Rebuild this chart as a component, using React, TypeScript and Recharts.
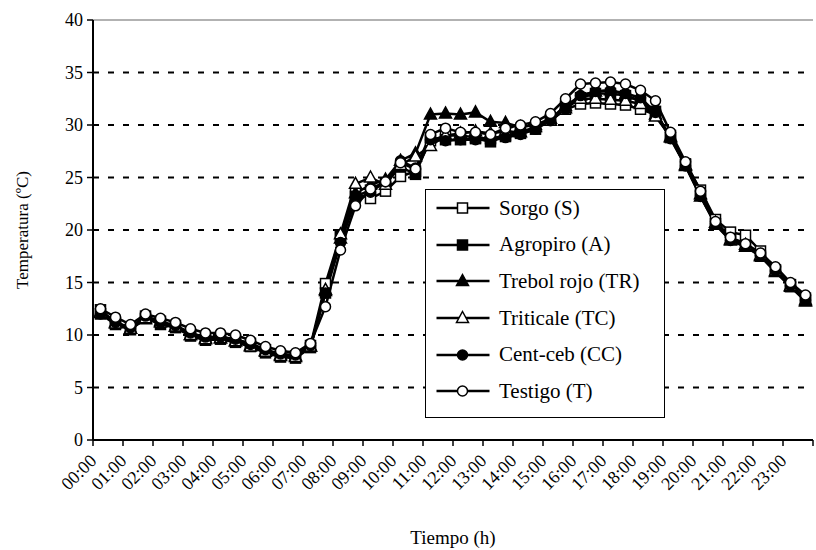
import React from "react";
import { LineChart, Line, XAxis, YAxis, ReferenceLine, Legend } from "recharts";

const serif = "Liberation Serif, Times New Roman, serif";

// half-hour readings
const times = [
  "00:00", "00:30", "01:00", "01:30", "02:00", "02:30", "03:00", "03:30",
  "04:00", "04:30", "05:00", "05:30", "06:00", "06:30", "07:00", "07:30",
  "08:00", "08:30", "09:00", "09:30", "10:00", "10:30", "11:00", "11:30",
  "12:00", "12:30", "13:00", "13:30", "14:00", "14:30", "15:00", "15:30",
  "16:00", "16:30", "17:00", "17:30", "18:00", "18:30", "19:00", "19:30",
  "20:00", "20:30", "21:00", "21:30", "22:00", "22:30", "23:00", "23:30",
];

const sorgo = [
  12.4, 11.2, 10.7, 11.8, 11.3, 10.9, 10.1, 9.8, 9.8, 9.6, 9.2, 8.6, 8.1, 8.0, 9.0, 14.9,
  19.5, 23.5, 23.0, 23.7, 25.1, 25.6, 28.5, 29.0, 29.0, 28.8, 28.7, 29.0, 29.3, 29.8, 30.5, 31.5,
  32.0, 32.1, 32.0, 31.9, 31.5, 31.0, 29.0, 26.3, 23.8, 21.0, 19.8, 19.5, 18.0, 16.2, 14.8, 13.5,
];
const agropiro = [
  12.0, 11.0, 10.5, 11.6, 11.0, 10.7, 9.9, 9.5, 9.6, 9.3, 8.9, 8.3, 7.9, 7.8, 8.8, 14.0,
  19.5, 23.2, 23.8, 24.5, 26.0, 25.3, 28.8, 28.6, 28.6, 28.7, 28.4, 28.9, 29.2, 29.6, 30.5, 31.8,
  32.6, 33.0, 33.0, 32.8, 32.3, 31.3, 28.8, 26.2, 23.3, 20.6, 19.2, 18.5, 17.5, 16.1, 14.6, 13.3,
];
const trebolRojo = [
  12.2, 11.2, 10.6, 11.5, 11.3, 10.8, 10.0, 9.7, 9.7, 9.4, 9.0, 8.5, 8.1, 8.0, 8.9, 14.2,
  19.2, 23.5, 24.3, 24.8, 26.6, 27.3, 31.0, 31.1, 31.0, 31.2, 30.3, 30.2, 29.8, 30.0, 30.6, 31.8,
  32.8, 33.2, 33.3, 32.9, 32.2, 31.0, 28.8, 26.1, 23.2, 20.5, 19.0, 18.4, 17.5, 16.0, 14.6, 13.2,
];
const triticale = [
  12.1, 11.1, 10.6, 11.6, 11.2, 10.8, 10.0, 9.6, 9.7, 9.4, 8.9, 8.4, 8.0, 7.9, 8.9, 14.3,
  19.6, 24.4, 25.0, 24.3, 26.2, 27.0, 28.0, 29.0, 29.2, 29.4, 29.2, 29.4, 29.3, 29.8, 30.4, 31.6,
  32.5, 32.5, 32.4, 32.3, 32.0, 30.8, 28.9, 26.2, 23.4, 20.7, 19.1, 18.6, 17.6, 16.1, 14.7, 13.3,
];
const centCeb = [
  12.0, 11.2, 10.7, 11.8, 11.2, 10.9, 10.2, 9.8, 9.8, 9.6, 9.1, 8.6, 8.2, 8.1, 9.0, 14.0,
  18.8, 22.8, 23.6, 24.6, 26.6, 25.9, 28.6, 28.5, 28.6, 28.6, 28.6, 28.8, 29.1, 29.6, 30.4, 31.5,
  32.8, 33.2, 33.3, 33.0, 32.6, 31.2, 28.7, 26.1, 23.2, 20.6, 19.0, 18.5, 17.6, 16.1, 14.7, 13.3,
];
const testigo = [
  12.5, 11.7, 11.0, 12.0, 11.6, 11.2, 10.6, 10.2, 10.2, 10.0, 9.5, 8.9, 8.5, 8.3, 9.2, 12.7,
  18.1, 22.3, 23.9, 24.6, 26.4, 25.8, 29.1, 29.7, 29.3, 29.3, 29.1, 29.7, 30.0, 30.3, 31.1, 32.5,
  33.9, 34.0, 34.1, 33.9, 33.3, 32.3, 29.3, 26.5, 23.7, 20.8, 19.3, 18.7, 17.8, 16.5, 15.0, 13.8,
];

const yTicks = [0, 5, 10, 15, 20, 25, 30, 35, 40];
const dashedLevels = [5, 10, 15, 20, 25, 30, 35];

type Kind = "square" | "triangle" | "circle";

const seriesList: { key: string; name: string; kind: Kind; filled: boolean }[] = [
  { key: "S", name: "Sorgo (S)", kind: "square", filled: false },
  { key: "A", name: "Agropiro (A)", kind: "square", filled: true },
  { key: "TR", name: "Trebol rojo (TR)", kind: "triangle", filled: true },
  { key: "TC", name: "Triticale (TC)", kind: "triangle", filled: false },
  { key: "CC", name: "Cent-ceb (CC)", kind: "circle", filled: true },
  { key: "T", name: "Testigo (T)", kind: "circle", filled: false },
];

const data = times.map((time, i) => ({
  time,
  S: sorgo[i],
  A: agropiro[i],
  TR: trebolRojo[i],
  TC: triticale[i],
  CC: centCeb[i],
  T: testigo[i],
}));

const Marker = ({ cx, cy, kind, filled }: { cx: number; cy: number; kind: Kind; filled: boolean }) => {
  const fill = filled ? "#000" : "#fff";
  if (kind === "square")
    return <rect x={cx - 5} y={cy - 5} width={10} height={10} fill={fill} stroke="#000" strokeWidth={1.5} />;
  if (kind === "circle")
    return <circle cx={cx} cy={cy} r={5} fill={fill} stroke="#000" strokeWidth={1.5} />;
  return (
    <polygon
      points={`${cx},${cy - 6.5} ${cx + 6},${cy + 4.5} ${cx - 6},${cy + 4.5}`}
      fill={fill}
      stroke="#000"
      strokeWidth={1.5}
    />
  );
};

// excel style: marks between categories, label every hour
const TimeTick = (props: any) => {
  const { x, y, payload } = props;
  const half = 7.5;
  const lx = x - 3;
  const ly = y + 22;
  return (
    <g>
      <line x1={x - half} x2={x - half} y1={y} y2={y + 6} stroke="#000" strokeWidth={1.5} />
      {payload.value === "23:00" && (
        <line x1={x + 3 * half} x2={x + 3 * half} y1={y} y2={y + 6} stroke="#000" strokeWidth={1.5} />
      )}
      <text
        x={lx}
        y={ly}
        transform={`rotate(-45, ${lx}, ${ly})`}
        textAnchor="end"
        style={{ fontFamily: serif, fontSize: 18, fill: "#000" }}
      >
        {payload.value}
      </text>
    </g>
  );
};

const TempTick = (props: any) => {
  const { x, y, payload } = props;
  return (
    <text x={x} y={y} dy={6} textAnchor="end" style={{ fontFamily: serif, fontSize: 18, fill: "#000" }}>
      {payload.value}
    </text>
  );
};

const LegendBox = () => (
  <div
    style={{
      width: 240,
      height: 229,
      border: "1.5px solid #000",
      background: "#fff",
      boxSizing: "border-box",
      fontFamily: serif,
      fontSize: 21,
      color: "#000",
    }}
  >
    {seriesList.map((s) => (
      <div key={s.key} style={{ display: "flex", alignItems: "center", height: 36.6 }}>
        <svg width={73} height={20} style={{ flex: "none" }}>
          <line x1={10.5} x2={63.5} y1={10} y2={10} stroke="#000" strokeWidth={2.5} />
          <Marker cx={36.5} cy={10} kind={s.kind} filled={s.filled} />
        </svg>
        <span style={{ whiteSpace: "nowrap" }}>{s.name}</span>
      </div>
    ))}
  </div>
);

export default function App() {
  return (
    <div style={{ position: "absolute", left: 0, top: 0, width: 816, height: 550, background: "#fff", fontFamily: serif }}>
      <LineChart width={816} height={550} data={data} margin={{ top: 20, right: 3, bottom: 0, left: 0 }}>
        {dashedLevels.map((v) => (
          <ReferenceLine key={v} y={v} stroke="#000" strokeWidth={2} strokeDasharray="6 9" />
        ))}
        <ReferenceLine y={40} stroke="#999" strokeWidth={1.5} />
        <XAxis
          dataKey="time"
          interval={1}
          height={110}
          padding={{ left: 7.5, right: 7.5 }}
          axisLine={{ stroke: "#000", strokeWidth: 2 }}
          tickLine={false}
          tickSize={0}
          tickMargin={0}
          tick={<TimeTick />}
          label={{
            value: "Tiempo (h)",
            position: "insideBottom",
            offset: 6,
            style: { fontFamily: serif, fontSize: 19, fill: "#000" },
          }}
        />
        <YAxis
          width={93}
          domain={[0, 40]}
          ticks={yTicks}
          interval={0}
          axisLine={{ stroke: "#000", strokeWidth: 2 }}
          tickLine={{ stroke: "#000", strokeWidth: 1.5 }}
          tickSize={6}
          tickMargin={4}
          tick={<TempTick />}
          label={{
            value: "Temperatura (ºC)",
            angle: -90,
            position: "insideLeft",
            offset: 22,
            style: { textAnchor: "middle", fontFamily: serif, fontSize: 17, fill: "#000" },
          }}
        />
        <Legend
          layout="vertical"
          align="center"
          verticalAlign="middle"
          wrapperStyle={{ left: 425, top: 189, width: 240 }}
          content={() => <LegendBox />}
        />
        {seriesList.map((s) => (
          <Line
            key={s.key}
            dataKey={s.key}
            name={s.name}
            type="linear"
            stroke="#000"
            strokeWidth={2.5}
            isAnimationActive={false}
            dot={(p: any) => (
              <Marker key={`${s.key}-${p.index}`} cx={p.cx} cy={p.cy} kind={s.kind} filled={s.filled} />
            )}
            activeDot={false}
          />
        ))}
      </LineChart>
    </div>
  );
}
